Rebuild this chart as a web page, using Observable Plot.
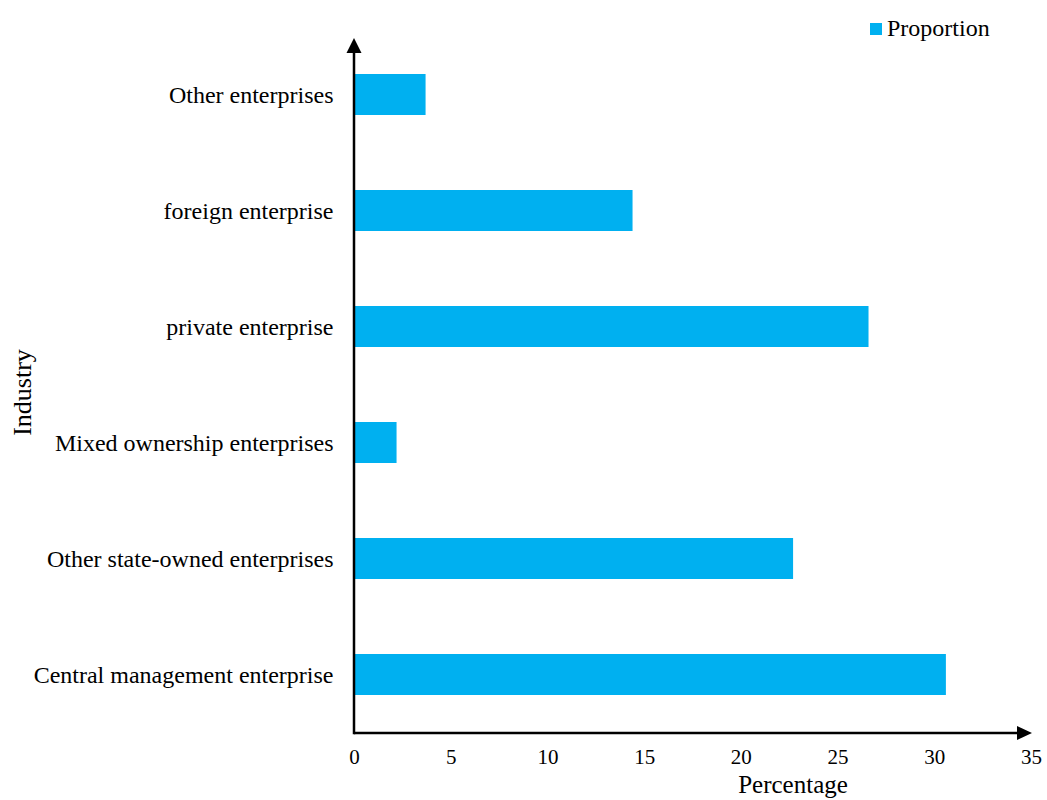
<!DOCTYPE html>
<html>
<head>
<meta charset="utf-8">
<script src="https://cdn.jsdelivr.net/npm/d3@7"></script>
<script src="https://cdn.jsdelivr.net/npm/@observablehq/plot@0.6"></script>
<style>
  html, body { margin: 0; padding: 0; background: #fff; }
  #wrap { position: relative; width: 1047px; height: 800px; font-family: "Liberation Serif", "Times New Roman", serif; }
  #legend { position: absolute; left: 870px; top: 13px; display: flex; align-items: center; font-size: 24px; color: #000; line-height: 30px; }
  #legend .sw { width: 12px; height: 12px; background: #00B0F0; margin-right: 5px; margin-top: 1px; }
</style>
</head>
<body>
<div id="wrap">
  <div id="legend"><span class="sw"></span><span>Proportion</span></div>
</div>
<script>
// Data
const categories = [
  "Other enterprises",
  "foreign enterprise",
  "private enterprise",
  "Mixed ownership enterprises",
  "Other state-owned enterprises",
  "Central management enterprise"
];
const proportion = [3.7, 14.4, 26.6, 2.2, 22.7, 30.6];
const xTicks = [0, 5, 10, 15, 20, 25, 30, 35];
const seriesName = "Proportion";
const xLabel = "Percentage";
const yLabel = "Industry";

const rows = categories.map((c, i) => ({industry: c, value: proportion[i]}));

const W = 1047, H = 800;
const mL = 354, mR = 16, mT = 37, mB = 67;
const barColor = "#00B0F0";

const chart = Plot.plot({
  width: W,
  height: H,
  marginLeft: mL,
  marginRight: mR,
  marginTop: mT,
  marginBottom: mB,
  style: {fontFamily: "'Liberation Serif', 'Times New Roman', serif", fontSize: "21px", color: "#000", background: "transparent", overflow: "visible"},
  x: {domain: [0, 35], ticks: xTicks, tickSize: 0, tickPadding: 16, label: null, line: false},
  y: {domain: categories, paddingInner: 0.645, paddingOuter: 0.3225, tickSize: 0, tickPadding: 21, label: null, line: false},
  marks: [
    Plot.barX(rows, {x: "value", y: "industry", fill: barColor}),
    Plot.text([xLabel], {frameAnchor: "bottom", textAnchor: "middle", dx: 100, dy: 59, fontSize: 25, fill: "#000"}),
    Plot.text([yLabel], {frameAnchor: "left", textAnchor: "middle", rotate: -90, dx: -332, dy: 7, fontSize: 26, fill: "#000"})
  ]
});

document.getElementById("wrap").appendChild(chart);

const svg = d3.select(chart);
// enlarge y tick labels to match the reference
svg.selectAll("g[aria-label='y-axis tick label'] text, g[aria-label='y-axis'] text").style("font-size", "24px");

// Axis lines with arrowheads, positioned through the x scale
const xs = chart.scale("x");
const x0 = xs.apply(0);
const xEnd = xs.apply(35) + 1;
const yBottom = H - mB;
const yTop = mT + 1;
const g = svg.append("g").attr("stroke", "#000").attr("fill", "#000");
g.append("line").attr("x1", x0).attr("x2", xEnd - 12).attr("y1", yBottom).attr("y2", yBottom).attr("stroke-width", 2.5);
g.append("line").attr("x1", x0).attr("x2", x0).attr("y1", yBottom + 1.25).attr("y2", yTop + 12).attr("stroke-width", 2.5);
g.append("path").attr("stroke", "none").attr("d", `M${xEnd},${yBottom} L${xEnd - 15},${yBottom - 7} L${xEnd - 15},${yBottom + 7} Z`);
g.append("path").attr("stroke", "none").attr("d", `M${x0},${yTop} L${x0 - 7.5},${yTop + 15} L${x0 + 7.5},${yTop + 15} Z`);
</script>
</body>
</html>
